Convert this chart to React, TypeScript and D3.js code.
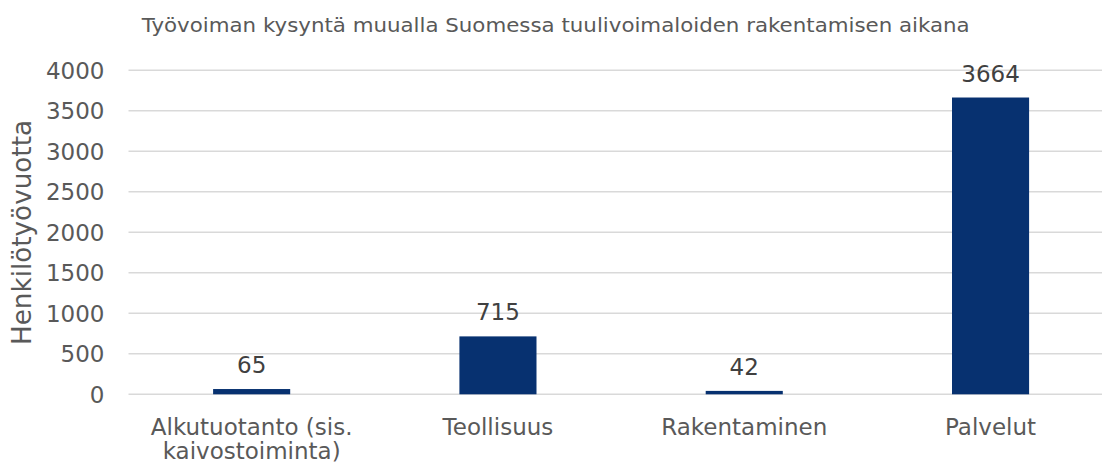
import React from "react";
import * as d3 from "d3";

const categories: string[][] = [
  ["Alkutuotanto (sis.", "kaivostoiminta)"],
  ["Teollisuus"],
  ["Rakentaminen"],
  ["Palvelut"],
];
const values: number[] = [65, 715, 42, 3664];
const yTicks: number[] = [0, 500, 1000, 1500, 2000, 2500, 3000, 3500, 4000];
const title = "Työvoiman kysyntä muualla Suomessa tuulivoimaloiden rakentamisen aikana";
const yLabel = "Henkilötyövuotta";

const W = 1103;
const H = 467;
const FONT = "'DejaVu Sans', Verdana, sans-serif";

export default function App() {
  const keys = categories.map((c) => c.join(" "));
  const x = d3.scaleBand<string>().domain(keys).range([128.5, 1113.7]).paddingInner(0.687).paddingOuter(0.3435);
  const y = d3.scaleLinear().domain([0, 4000]).range([394.3, 70.3]);
  const gridRight = 1102;

  return (
    <svg width={W} height={H} style={{ position: "absolute", left: 0, top: 0, background: "#fff" }} fontFamily={FONT}>
      <text x={141.7} y={31.7} fontSize={20} fill="#595959" textLength={828} lengthAdjust="spacingAndGlyphs">
        {title}
      </text>
      {yTicks.map((t) => (
        <g key={t}>
          <line x1={128.5} x2={gridRight} y1={y(t)} y2={y(t)} stroke="#D9D9D9" strokeWidth={1.5} />
          <text x={104.5} y={y(t) + 8.5} fontSize={23} fill="#595959" textAnchor="end">
            {t}
          </text>
        </g>
      ))}
      <text
        transform={`translate(31,232.5) rotate(-90)`}
        fontSize={26}
        fill="#595959"
        textAnchor="middle"
        textLength={225}
        lengthAdjust="spacingAndGlyphs"
      >
        {yLabel}
      </text>
      {values.map((v, i) => {
        const k = keys[i];
        const bx = x(k)!;
        const bw = x.bandwidth();
        return (
          <g key={k}>
            <rect x={bx} y={y(v)} width={bw} height={y(0) - y(v)} fill="#073170" />
            <text x={bx + bw / 2} y={y(v) - 16} fontSize={23} fill="#404040" textAnchor="middle">
              {v}
            </text>
          </g>
        );
      })}
      {categories.map((lines, i) => {
        const k = keys[i];
        const cx = x(k)! + x.bandwidth() / 2;
        return (
          <text key={k} x={cx} fontSize={23} fill="#595959" textAnchor="middle">
            {lines.map((ln, j) => (
              <tspan key={j} x={cx} y={434.5 + j * 24.5}>
                {ln}
              </tspan>
            ))}
          </text>
        );
      })}
    </svg>
  );
}
